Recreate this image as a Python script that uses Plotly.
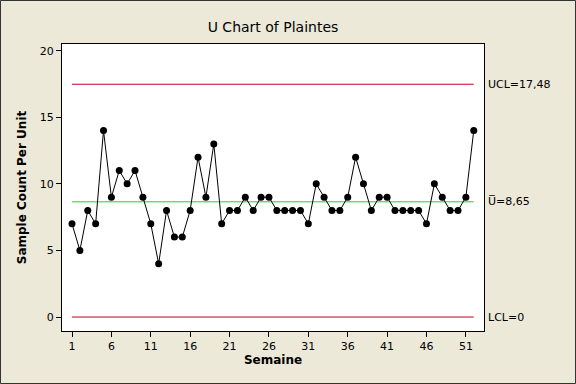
import plotly.graph_objects as go

weeks = list(range(1, 53))
counts = [7, 5, 8, 7, 14, 9, 11, 10, 11, 9,
          7, 4, 8, 6, 6, 8, 12, 9, 13, 7,
          8, 8, 9, 8, 9, 9, 8, 8, 8, 8,
          7, 10, 9, 8, 8, 9, 12, 10, 8, 9,
          9, 8, 8, 8, 8, 7, 10, 9, 8, 8,
          9, 14]
ucl = 17.48
center = 8.65
lcl = 0
x_ticks = [1, 6, 11, 16, 21, 26, 31, 36, 41, 46, 51]
y_ticks = [0, 5, 10, 15, 20]
limit_labels = ["UCL=17,48", "U\u0305=8,65", "LCL=0"]

W, H = 576, 384
ml, mr, mt, mb = 62, 92, 44, 53
pw, ph = W - ml - mr, H - mt - mb

font = "DejaVu Sans"
red = "#C00020"
green = "#30C830"
fig = go.Figure()
fig.add_trace(go.Scatter(x=[weeks[0], weeks[-1]], y=[ucl, ucl], mode="lines",
                         line=dict(color=red, width=1), hoverinfo="skip"))
fig.add_trace(go.Scatter(x=[weeks[0], weeks[-1]], y=[lcl, lcl], mode="lines",
                         line=dict(color=red, width=1), hoverinfo="skip"))
fig.add_trace(go.Scatter(x=[weeks[0], weeks[-1]], y=[center, center], mode="lines",
                         line=dict(color=green, width=1), hoverinfo="skip"))
fig.add_trace(go.Scatter(x=weeks, y=counts, mode="lines+markers",
                         line=dict(color="black", width=1),
                         marker=dict(color="black", size=7)))

for val, txt in zip([ucl, center, lcl], limit_labels):
    fig.add_annotation(x=1, xref="paper", y=val, yref="y", text=txt,
                       showarrow=False, xanchor="left", xshift=2,
                       font=dict(family=font, size=11, color="black"))

# outer border
fig.add_shape(type="rect", xref="paper", yref="paper",
              x0=(-ml + 0.5) / pw, x1=(pw + mr - 0.5) / pw,
              y0=(-mb + 0.5) / ph, y1=(ph + mt - 0.5) / ph,
              line=dict(color="#333333", width=1), layer="below")

fig.update_layout(
    width=W, height=H,
    margin=dict(l=ml, r=mr, t=mt, b=mb, autoexpand=False),
    paper_bgcolor="#ECE9D8", plot_bgcolor="white",
    showlegend=False,
    title=dict(text="U Chart of Plaintes", x=(ml + pw / 2) / W, xanchor="center",
               y=1 - 27 / H, yanchor="middle",
               font=dict(family=font, size=14, color="black")),
    font=dict(family=font, size=11, color="black"),
)
fig.update_xaxes(range=[-0.27, 53.3], tickvals=x_ticks, ticks="outside", ticklen=5,
                 tickcolor="black", showgrid=False, zeroline=False,
                 showline=True, linecolor="black", linewidth=1, mirror=True,
                 title=dict(text="<b>Semaine</b>", font=dict(family=font, size=12), standoff=3))
fig.update_yaxes(range=[-1.05, 20.5], tickvals=y_ticks, ticks="outside", ticklen=5,
                 tickcolor="black", showgrid=False, zeroline=False,
                 showline=True, linecolor="black", linewidth=1, mirror=True,
                 title=dict(text="<b>Sample Count Per Unit</b>", font=dict(family=font, size=12), standoff=10))

fig.write_html("out.html", config={"displayModeBar": False},
               post_script="document.body.style.margin='0';document.body.style.overflow='hidden';")
